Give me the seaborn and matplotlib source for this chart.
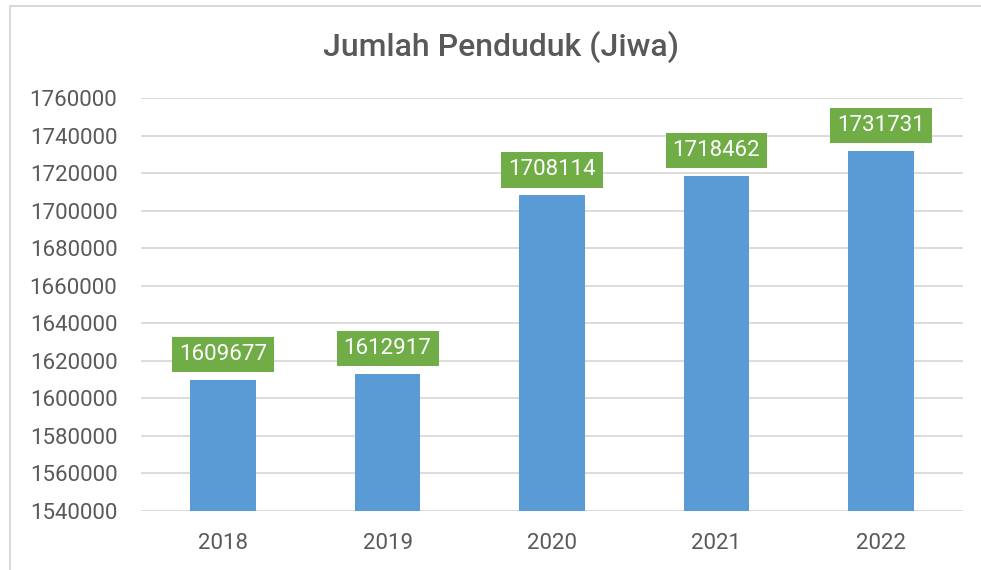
import pandas as pd
import matplotlib
matplotlib.use("Agg")
import matplotlib.pyplot as plt
import matplotlib.patches as patches
import seaborn as sns

# data
years = ["2018", "2019", "2020", "2021", "2022"]
population = [1609677, 1612917, 1708114, 1718462, 1731731]
y_ticks = list(range(1540000, 1760001, 20000))

df = pd.DataFrame({"Tahun": years, "Jiwa": population})

sns.set_theme(style="white")
plt.rcParams["font.family"] = ["Roboto", "DejaVu Sans"]

text_gray = "#595959"
bar_blue = "#5B9BD5"
label_green = "#70AD47"

fig = plt.figure(figsize=(9.81, 5.70), dpi=100)
ax = fig.add_axes([0.1437, 0.1035, 0.838, 0.7245])

sns.barplot(data=df, x="Tahun", y="Jiwa", color=bar_blue, width=0.4,
            saturation=1, linewidth=0, ax=ax, zorder=3)

ax.set_ylim(1540000, 1760000)
ax.set_yticks(y_ticks)
ax.set_yticklabels([str(t) for t in y_ticks])
ax.yaxis.grid(True, color="#D9D9D9", linewidth=1.3, zorder=0)
ax.set_axisbelow(True)
for s in ax.spines.values():
    s.set_visible(False)
ax.set_xlabel("")
ax.set_ylabel("")
ax.tick_params(axis="both", length=0, labelsize=16, colors=text_gray)
ax.tick_params(axis="y", pad=17)
ax.tick_params(axis="x", pad=16)

# green value boxes above the bars
for i, v in enumerate(population):
    ax.annotate(str(v), xy=(i, v), xytext=(0, 15), textcoords="offset pixels",
                ha="center", va="bottom", fontsize=16, color="white",
                bbox=dict(boxstyle="square,pad=0.32", fc=label_green, ec="none"),
                zorder=5)

fig.text(0.511, 0.918, "Jumlah Penduduk (Jiwa)", ha="center", va="center",
         fontsize=23, color=text_gray, fontweight="medium")

# chart frame
fig.patches.append(patches.Rectangle((10 / 981, -0.05), 1.0, 1 - 6 / 570 + 0.05,
                                     transform=fig.transFigure, fill=False,
                                     ec="#D9D9D9", lw=1.5))

fig.savefig("out.png", dpi=100)
